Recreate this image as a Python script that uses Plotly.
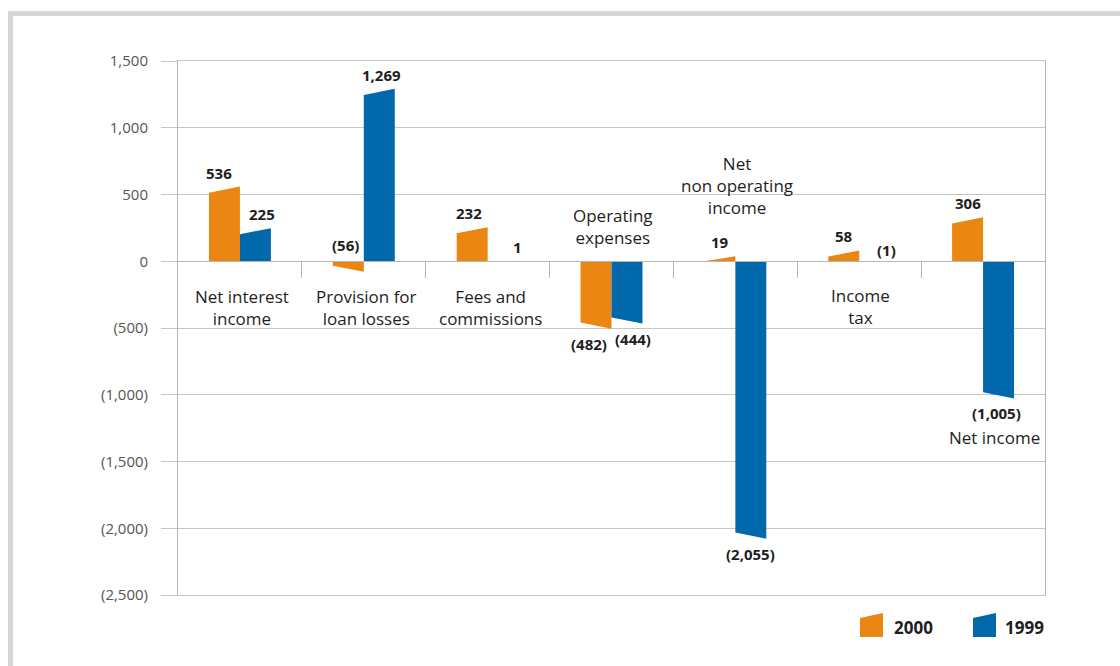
import plotly.graph_objects as go

# ---------------- data ----------------
categories = ["Net interest income", "Provision for loan losses", "Fees and commissions",
              "Operating expenses", "Net non operating income", "Income tax", "Net income"]
category_labels = ["Net interest<br>income", "Provision for<br>loan losses", "Fees and<br>commissions",
                   "Operating<br>expenses", "Net<br>non operating<br>income", "Income<br>tax", "Net income"]
series_names = ["2000", "1999"]
values_2000 = [536, -56, 232, -482, 19, 58, 306]
values_1999 = [225, 1269, 1, -444, -2055, -1, -1005]
y_tickvals = [1500, 1000, 500, 0, -500, -1000, -1500, -2000, -2500]
y_ticktext = ["1,500", "1,000", "500", "0", "(500)", "(1,000)", "(1,500)", "(2,000)", "(2,500)"]

# ---------------- style ----------------
ORANGE = "#eb8612"
BLUE = "#0068ab"
GRID = "#c6c6c6"
AXIS = "#b5b5b5"
TXT = "#1e1e1e"
FONT = "Open Sans"
HALF = 0.25          # each bar is a quarter of a category wide
SLANT = 23           # skew of the bar end (data units)
W, H = 1120, 666
ML, MR, MT, MB = 178, 75, 61, 71

# category label placement (data y, x offset in category units)
cat_label_y = [-345, -345, -345, 258, 565, -340, -1320]
cat_label_dx = [0.02, 0.02, 0.02, 0.01, 0.01, 0.01, 0.09]
# value labels that sit above the zero line instead of at the bar end
above_zero = {(0, 1): 16, (1, 5): 11}
label_dx = [[-5, -3, -3, -7, 0, 0, 0], [7, 2, 14, 6, 0, 12, -2]]


def fmt(v):
    s = f"{abs(v):,}"
    return f"({s})" if v < 0 else s


def bar_path(values, side):
    xs, ys = [], []
    for i, v in enumerate(values):
        x0 = i - HALF if side == 0 else i
        x1 = x0 + HALF
        sgn = 1 if v >= 0 else -1
        d = min(SLANT, abs(v)) * sgn
        xs += [x0, x0, x1, x1, x0, None]
        ys += [0, v - d, v + d, 0, 0, None]
    return xs, ys


fig = go.Figure()
colors = [ORANGE, BLUE]
all_values = [values_2000, values_1999]
for s, vals in enumerate(all_values):
    xs, ys = bar_path(vals, s)
    fig.add_trace(go.Scatter(x=xs, y=ys, mode="lines", fill="toself", fillcolor=colors[s],
                             line=dict(width=0, color=colors[s]), name=series_names[s],
                             showlegend=False, hoverinfo="skip"))

annotations = []
# value labels
for s, vals in enumerate(all_values):
    for i, v in enumerate(vals):
        xc = i - HALF / 2 if s == 0 else i + HALF / 2
        d = min(SLANT, abs(v))
        if (s, i) in above_zero:
            y, ysh = 0, above_zero[(s, i)]
        elif v >= 0:
            y, ysh = v + d, 14
        else:
            y, ysh = v - d, -15
        annotations.append(dict(x=xc, y=y, xref="x", yref="y", text=fmt(v), showarrow=False,
                                yshift=ysh, xshift=label_dx[s][i], yanchor="middle",
                                font=dict(family=FONT, size=15, color=TXT, weight="bold")))
# category labels
for i, lab in enumerate(category_labels):
    annotations.append(dict(x=i + cat_label_dx[i], y=cat_label_y[i], xref="x", yref="y", text=lab,
                            showarrow=False, yanchor="middle",
                            font=dict(family=FONT, size=17, color=TXT)))


def px_x(p):
    return (p - ML) / (W - ML - MR)


def px_y(p):
    return (H - MB - p) / (H - MT - MB)


shapes = []
# outer grey frame
shapes.append(dict(type="rect", xref="paper", yref="paper",
                   x0=px_x(10.5), y0=px_y(700), x1=px_x(1140), y1=px_y(13.5),
                   line=dict(color="#d5d5d5", width=5), fillcolor="rgba(0,0,0,0)", layer="below"))
# legend swatches + labels
leg = [(860, 892), (973, 1003)]
for s, (sx, tx) in enumerate(leg):
    path = (f"M{px_x(sx)},{px_y(637)} L{px_x(sx)},{px_y(618)} "
            f"L{px_x(sx + 23)},{px_y(613)} L{px_x(sx + 23)},{px_y(637)} Z")
    shapes.append(dict(type="path", xref="paper", yref="paper", path=path,
                       fillcolor=colors[s], line=dict(width=0)))
    annotations.append(dict(x=px_x(tx), y=px_y(627), xref="paper", yref="paper",
                            text=series_names[s], showarrow=False, xanchor="left", yanchor="middle",
                            font=dict(family=FONT, size=17, color=TXT, weight="bold")))

fig.update_layout(
    width=W, height=H,
    margin=dict(l=ML, r=MR, t=MT, b=MB, pad=0),
    paper_bgcolor="white", plot_bgcolor="white",
    showlegend=False,
    annotations=annotations,
    shapes=shapes,
    xaxis=dict(range=[-0.5, 6.5], anchor="free", position=(0 - (-2500)) / 4000,
               showgrid=False, zeroline=False, showline=True, linecolor=AXIS, linewidth=1,
               tickmode="array", tickvals=[i + 0.5 for i in range(6)], ticks="outside",
               ticklen=16, tickcolor=AXIS, tickwidth=1, showticklabels=False, fixedrange=True),
    # frame lines at the top (1,500) and bottom (2,500) of the plot area
    xaxis2=dict(range=[-0.5, 6.5], overlaying="x", anchor="y", side="bottom",
                showgrid=False, zeroline=False, showline=True, mirror=True,
                linecolor=GRID, linewidth=1, ticks="", showticklabels=False, fixedrange=True),
    yaxis=dict(range=[-2500, 1500], tickmode="array", tickvals=y_tickvals, ticktext=y_ticktext,
               showgrid=True, gridcolor=GRID, gridwidth=1, zeroline=False,
               showline=True, mirror=True, linecolor=AXIS, linewidth=1,
               ticks="outside", ticklen=16, tickcolor=GRID, ticklabelstandoff=10,
               tickfont=dict(family=FONT, size=15, color="#555555"), fixedrange=True),
)
# invisible trace so the framing axis is rendered
fig.add_trace(go.Scatter(x=[0], y=[0], xaxis="x2", yaxis="y", mode="markers",
                         marker=dict(opacity=0), showlegend=False, hoverinfo="skip"))

fig.write_html("out.html", config={"displayModeBar": False},
               post_script="document.body.style.margin='0';document.body.style.overflow='hidden';")
